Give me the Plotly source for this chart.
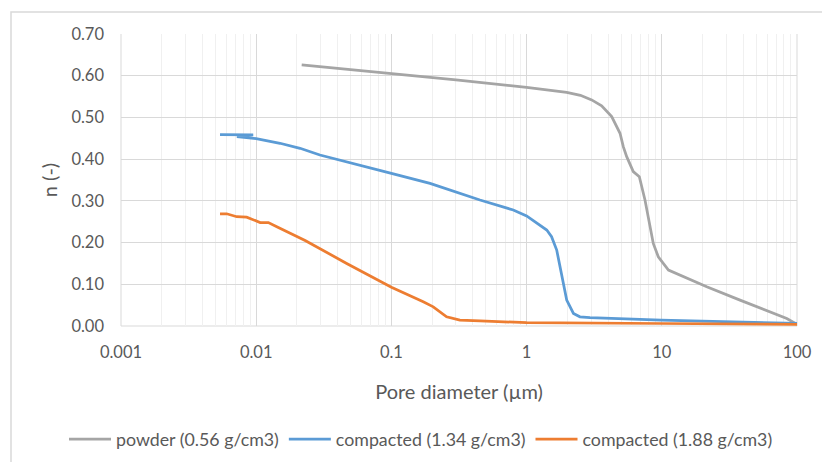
import plotly.graph_objects as go

# Pore size distribution: porosity n (-) versus pore diameter (µm)
powder_d = [0.0217, 0.1, 0.3, 1.0, 1.26, 1.98, 2.5, 3.03, 3.59, 4.26, 4.91, 5.19, 5.50,
            6.15, 6.82, 7.51, 8.65, 9.42, 11.2, 21.5, 37.9, 66.8, 84.0, 100.0]
powder_n = [0.626, 0.606, 0.590, 0.572, 0.568, 0.560, 0.553, 0.542, 0.528, 0.502, 0.462,
            0.430, 0.406, 0.370, 0.358, 0.302, 0.198, 0.166, 0.134, 0.094, 0.062, 0.032,
            0.018, 0.004]

comp134_d = [0.0054, 0.0095, 0.0072, 0.0100, 0.0150, 0.0211, 0.0296, 0.0695, 0.1, 0.193,
             0.452, 0.797, 1.0, 1.41, 1.53, 1.67, 1.82, 1.98, 2.22, 2.48, 2.94, 9.9, 100.0]
comp134_n = [0.459, 0.458, 0.454, 0.449, 0.438, 0.426, 0.410, 0.378, 0.366, 0.342,
             0.302, 0.278, 0.264, 0.230, 0.214, 0.182, 0.118, 0.062, 0.030, 0.022, 0.020,
             0.014, 0.006]

comp188_d = [0.0054, 0.00605, 0.00718, 0.0085, 0.0107, 0.0123, 0.0142, 0.0178, 0.0211,
             0.023, 0.0467, 0.1, 0.172, 0.204, 0.256, 0.321, 0.452, 1.0, 10.0, 100.0]
comp188_n = [0.269, 0.269, 0.262, 0.261, 0.248, 0.248, 0.238, 0.222, 0.210,
             0.205, 0.150, 0.093, 0.058, 0.046, 0.022, 0.014, 0.012, 0.008, 0.006, 0.004]

series_names = ["powder (0.56 g/cm3)", "compacted (1.34 g/cm3)", "compacted (1.88 g/cm3)"]
series_colors = ["#A5A5A5", "#5B9BD5", "#ED7D31"]

x_tickvals = [0.001, 0.01, 0.1, 1, 10, 100]
x_ticktext = ["0.001", "0.01", "0.1", "1", "10", "100"]
y_tickvals = [0.0, 0.1, 0.2, 0.3, 0.4, 0.5, 0.6, 0.7]

FONT = "Lato"
TEXT = "#595959"

fig = go.Figure()
for xs, ys, name, color in zip(
    [powder_d, comp134_d, comp188_d],
    [powder_n, comp134_n, comp188_n],
    series_names, series_colors,
):
    fig.add_trace(go.Scatter(
        x=xs, y=ys, mode="lines", name=name,
        line=dict(color=color, width=2.75),
    ))

# plot area spans px 121..797 horizontally and 34..326 vertically
W, H = 822, 462
L, R, T, B = 121, 25, 34, 136
pw, ph = W - L - R, H - T - B

def px_x(p):
    return (p - L) / pw

def px_y(p):
    return (H - B - p) / ph

fig.update_layout(
    width=W, height=H,
    margin=dict(l=L, r=R, t=T, b=B, autoexpand=False),
    paper_bgcolor="white", plot_bgcolor="white",
    font=dict(family=FONT, color=TEXT, size=16),
    showlegend=True,
    legend=dict(
        orientation="h", x=px_x(64), xanchor="left", y=px_y(421), yanchor="top",
        itemwidth=42,
        font=dict(family=FONT, size=17.8, color=TEXT),
        bgcolor="rgba(0,0,0,0)",
    ),
    xaxis=dict(
        type="log", range=[-3, 2], automargin=False,
        tickvals=x_tickvals, ticktext=x_ticktext,
        showgrid=True, gridcolor="#D9D9D9", gridwidth=1,
        minor=dict(showgrid=True, gridcolor="#F0F0F0", gridwidth=1, dtick="D1"),
        zeroline=False, showline=False, ticks="",
        ticklabelstandoff=14,
        tickfont=dict(family=FONT, size=16.5, color=TEXT),
        title=dict(text="Pore diameter (µm)", font=dict(family=FONT, size=20, color=TEXT),
                   standoff=24),
    ),
    yaxis=dict(
        range=[0, 0.7], tickvals=y_tickvals, tickformat=".2f", automargin=False,
        showgrid=True, gridcolor="#D9D9D9", gridwidth=1,
        zeroline=False, showline=False, ticks="",
        ticklabelstandoff=16,
        tickfont=dict(family=FONT, size=16.5, color=TEXT),
        title=dict(text="n (-)", font=dict(family=FONT, size=20, color=TEXT),
                   standoff=8),
    ),
    shapes=[
        # outer chart border
        dict(type="rect", xref="paper", yref="paper",
             x0=px_x(11), x1=px_x(840), y0=px_y(480), y1=px_y(12),
             line=dict(color="#D9D9D9", width=1.5), fillcolor="rgba(0,0,0,0)", layer="below"),
        # plot area edges at x=0.001, x=100 and y=0
        dict(type="line", xref="paper", yref="paper", x0=0, x1=0, y0=0, y1=1,
             line=dict(color="#D9D9D9", width=1), layer="below"),
        dict(type="line", xref="paper", yref="paper", x0=1, x1=1, y0=0, y1=1,
             line=dict(color="#D9D9D9", width=1), layer="below"),
        dict(type="line", xref="paper", yref="paper", x0=0, x1=1, y0=0, y1=0,
             line=dict(color="#D9D9D9", width=1.2), layer="below"),
    ],
)

fig.write_html("out.html")
